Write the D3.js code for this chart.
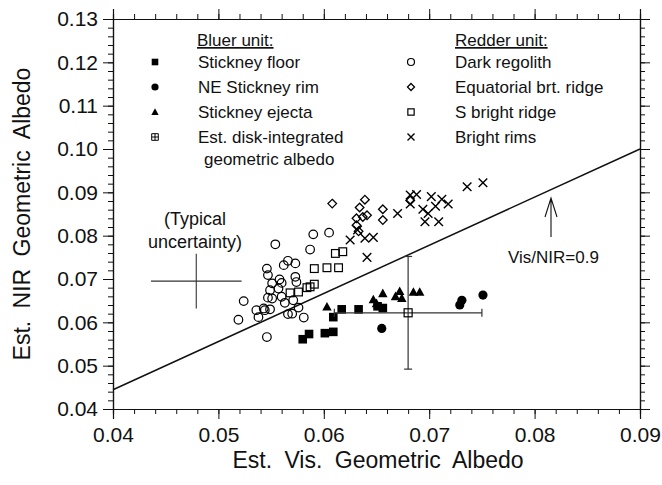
<!DOCTYPE html>
<html><head><meta charset="utf-8">
<script src="https://cdn.jsdelivr.net/npm/d3@7"></script>
<style>
body{margin:0;background:#fff;}
text{font-family:"Liberation Sans",Arial,sans-serif;fill:#111;}
</style></head>
<body><svg id="c" width="662" height="485"></svg>
<script>
// ---- data ----
const xTicks = [0.04,0.05,0.06,0.07,0.08,0.09];
const yTicks = [0.04,0.05,0.06,0.07,0.08,0.09,0.10,0.11,0.12,0.13];
const bluerLabels = ["Stickney floor","NE Stickney rim","Stickney ejecta"];
const redderLabels = ["Dark regolith","Equatorial brt. ridge","S bright ridge","Bright rims"];
const stickneyFloorVis = [0.0580,0.0586,0.0601,0.0609,0.0609,0.0617,0.0633,0.0651,0.0656];
const stickneyFloorNir = [0.0561,0.0573,0.0575,0.0578,0.0612,0.0630,0.0630,0.0637,0.0633];
const neRimVis = [0.0655,0.0729,0.0731,0.0751];
const neRimNir = [0.0586,0.0640,0.0651,0.0663];
const ejectaVis = [0.0603,0.0647,0.0656,0.0650,0.0668,0.0672,0.0674,0.0685,0.0691];
const ejectaNir = [0.0636,0.0653,0.0667,0.0644,0.0660,0.0672,0.0656,0.0670,0.0670];
const darkVis = [0.0590,0.0605,0.0554,0.0587,0.0566,0.0562,0.0573,0.0546,0.0547,0.0573,0.0558,0.0551,0.0560,0.0574,0.0549,0.0557,0.0551,0.0560,0.0571,0.0547,0.0563,0.0576,0.0544,0.0549,0.0538,0.0566,0.0570,0.0581,0.0546,0.0524,0.0519,0.0536,0.0543];
const darkNir = [0.0803,0.0807,0.0780,0.0768,0.0742,0.0732,0.0736,0.0724,0.0709,0.0705,0.0699,0.0690,0.0691,0.0693,0.0674,0.0678,0.0655,0.0659,0.0651,0.0657,0.0645,0.0634,0.0628,0.0630,0.0612,0.0619,0.0620,0.0611,0.0566,0.0649,0.0606,0.0628,0.0632];
const ridgeVis = [0.0608,0.0639,0.0634,0.0631,0.0637,0.0641,0.0656,0.0656,0.0631,0.0633,0.0682];
const ridgeNir = [0.0874,0.0883,0.0865,0.0840,0.0843,0.0847,0.0861,0.0836,0.0824,0.0810,0.0881];
const sRidgeVis = [0.0611,0.0618,0.0591,0.0603,0.0614,0.0591,0.0587,0.0584,0.0576,0.0568];
const sRidgeNir = [0.0759,0.0763,0.0724,0.0726,0.0726,0.0688,0.0682,0.0680,0.0670,0.0668];
const rimsVis = [0.0625,0.0632,0.0639,0.0647,0.0641,0.0670,0.0682,0.0688,0.0682,0.0694,0.0702,0.0706,0.0712,0.0718,0.0699,0.0696,0.0709,0.0736,0.0751];
const rimsNir = [0.0790,0.0813,0.0794,0.0796,0.0750,0.0851,0.0894,0.0895,0.0873,0.0861,0.0890,0.0868,0.0884,0.0873,0.0851,0.0832,0.0832,0.0913,0.0922];
const diskVis = 0.0680, diskNir = 0.0622, diskVisErr = 0.0070, diskNirErr = 0.0130;
const typVis = 0.0479, typNir = 0.0695, typVisErr = 0.0043, typNirErr = 0.0063;
const ratio = 0.9;

// ---- chart ----
const svg = d3.select("#c");
const x = d3.scaleLinear().domain([0.04,0.09]).range([113,640]);
const y = d3.scaleLinear().domain([0.04,0.13]).range([409,19]);
const minorX = d3.range(0.04,0.0901,0.002), minorY = d3.range(0.04,0.1301,0.002);
const fmt = d3.format(".2f");
const ax = svg.append("g").attr("class","axes");
function styleAxis(g){g.selectAll("path").attr("stroke","#111").attr("stroke-width",1.2);g.selectAll("line").attr("stroke","#111");g.selectAll("text").style("font-size","21px").attr("fill","#111");}
// minor
ax.append("g").attr("transform","translate(0,409)").call(d3.axisBottom(x).tickValues(minorX).tickSize(5).tickFormat("")).call(styleAxis);
ax.append("g").attr("transform","translate(0,19)").call(d3.axisTop(x).tickValues(minorX).tickSize(5).tickFormat("")).call(styleAxis);
ax.append("g").attr("transform","translate(113,0)").call(d3.axisLeft(y).tickValues(minorY).tickSize(5).tickFormat("")).call(styleAxis);
ax.append("g").attr("transform","translate(640,0)").call(d3.axisRight(y).tickValues(minorY).tickSize(5).tickFormat("")).call(styleAxis);
// major
ax.append("g").attr("transform","translate(0,409)").call(d3.axisBottom(x).tickValues(xTicks).tickSize(10).tickPadding(8).tickFormat(fmt)).call(styleAxis);
ax.append("g").attr("transform","translate(0,19)").call(d3.axisTop(x).tickValues(xTicks).tickSize(10).tickFormat("")).call(styleAxis);
ax.append("g").attr("transform","translate(113,0)").call(d3.axisLeft(y).tickValues(yTicks).tickSize(10).tickPadding(5).tickFormat(fmt)).call(styleAxis);
ax.append("g").attr("transform","translate(640,0)").call(d3.axisRight(y).tickValues(yTicks).tickSize(10).tickFormat("")).call(styleAxis);

svg.append("text").attr("x",378).attr("y",468).attr("text-anchor","middle").style("font-size","23px").style("word-spacing","6px").text("Est. Vis. Geometric Albedo");
svg.append("text").attr("transform","translate(30,214) rotate(-90)").attr("text-anchor","middle").style("font-size","23px").style("word-spacing","6px").text("Est. NIR Geometric Albedo");

// ratio line
svg.append("line").attr("x1",x(0.04)).attr("y1",y(0.04/ratio)).attr("x2",x(0.09)).attr("y2",y(0.09/ratio)).attr("stroke","#111").attr("stroke-width",1.5);

// symbol makers
const sz = 4.3;
function sym(type, g, cx, cy, s){
  s = s||sz;
  if(type==="fsquare") g.append("rect").attr("x",cx-s).attr("y",cy-s).attr("width",2*s).attr("height",2*s).attr("fill","#000");
  else if(type==="fcircle") g.append("circle").attr("cx",cx).attr("cy",cy).attr("r",s+0.3).attr("fill","#000");
  else if(type==="ftri") g.append("path").attr("d",`M${cx},${cy-s*1.1}L${cx+s*1.1},${cy+s*0.9}L${cx-s*1.1},${cy+s*0.9}Z`).attr("fill","#000");
  else if(type==="ocircle") g.append("circle").attr("cx",cx).attr("cy",cy).attr("r",s).attr("fill","none").attr("stroke","#000").attr("stroke-width",1.2);
  else if(type==="odiamond") g.append("path").attr("d",`M${cx},${cy-s}L${cx+s},${cy}L${cx},${cy+s}L${cx-s},${cy}Z`).attr("fill","none").attr("stroke","#000").attr("stroke-width",1.3);
  else if(type==="osquare") g.append("rect").attr("x",cx-s*0.9).attr("y",cy-s*0.9).attr("width",1.8*s).attr("height",1.8*s).attr("fill","none").attr("stroke","#000").attr("stroke-width",1.2);
  else if(type==="cross") g.append("path").attr("d",`M${cx-s},${cy-s}L${cx+s},${cy+s}M${cx-s},${cy+s}L${cx+s},${cy-s}`).attr("stroke","#000").attr("stroke-width",1.4);
  else if(type==="boxplus") g.append("path").attr("d",`M${cx-s},${cy-s}h${2*s}v${2*s}h${-2*s}Z M${cx-s},${cy}h${2*s} M${cx},${cy-s}v${2*s}`).attr("fill","none").attr("stroke","#000").attr("stroke-width",1);
}
const pts = svg.append("g");
function plot(vs, ns, type){ vs.forEach((v,i)=>sym(type, pts, x(v), y(ns[i]))); }

// disk-integrated error bars
const eb = svg.append("g").attr("stroke","#333").attr("stroke-width",1.2).attr("fill","none");
eb.append("line").attr("x1",x(diskVis-diskVisErr)).attr("x2",x(diskVis+diskVisErr)).attr("y1",y(diskNir)).attr("y2",y(diskNir));
eb.append("line").attr("x1",x(diskVis)).attr("x2",x(diskVis)).attr("y1",y(diskNir-diskNirErr)).attr("y2",y(diskNir+diskNirErr));
[diskNir-diskNirErr, diskNir+diskNirErr].forEach(n=>eb.append("line").attr("x1",x(diskVis)-4).attr("x2",x(diskVis)+4).attr("y1",y(n)).attr("y2",y(n)));
[diskVis-diskVisErr, diskVis+diskVisErr].forEach(v=>eb.append("line").attr("x1",x(v)).attr("x2",x(v)).attr("y1",y(diskNir)-4).attr("y2",y(diskNir)+4));
eb.append("rect").attr("x",x(diskVis)-4).attr("y",y(diskNir)-4).attr("width",8).attr("height",8).attr("stroke","#000");

plot(darkVis, darkNir, "ocircle");
plot(ridgeVis, ridgeNir, "odiamond");
plot(sRidgeVis, sRidgeNir, "osquare");
plot(rimsVis, rimsNir, "cross");
plot(stickneyFloorVis, stickneyFloorNir, "fsquare");
plot(neRimVis, neRimNir, "fcircle");
plot(ejectaVis, ejectaNir, "ftri");

// typical uncertainty
const tu = svg.append("g").attr("stroke","#333").attr("stroke-width",1.1);
tu.append("line").attr("x1",x(typVis-typVisErr)).attr("x2",x(typVis+typVisErr)).attr("y1",y(typNir)).attr("y2",y(typNir));
tu.append("line").attr("x1",x(typVis)).attr("x2",x(typVis)).attr("y1",y(typNir-typNirErr)).attr("y2",y(typNir+typNirErr));
svg.append("text").attr("x",195).attr("y",225).attr("text-anchor","middle").style("font-size","18px").text("(Typical");
svg.append("text").attr("x",195).attr("y",248).attr("text-anchor","middle").style("font-size","18px").text("uncertainty)");

// annotation
svg.append("text").attr("x",508).attr("y",263).style("font-size","17px").text("Vis/NIR=0.9");
svg.append("path").attr("d","M551,237V198M545,217L551,198L557,217").attr("fill","none").attr("stroke","#111").attr("stroke-width",1.1);

// legend
const lg = svg.append("g");
lg.append("text").attr("x",197).attr("y",46).style("font-size","17px").style("text-decoration","underline").text("Bluer unit:");
lg.append("text").attr("x",455).attr("y",46).style("font-size","17px").style("text-decoration","underline").text("Redder unit:");
const rows = [62,87,112,137];
const bluerTypes = ["fsquare","fcircle","ftri"];
bluerLabels.forEach((t,i)=>{ sym(bluerTypes[i], lg, 155, rows[i], 3.3); lg.append("text").attr("x",198).attr("y",rows[i]+6).style("font-size","17px").text(t); });
sym("boxplus", lg, 155, rows[3], 3.3);
lg.append("text").attr("x",198).attr("y",rows[3]+6).style("font-size","17px").text("Est. disk-integrated");
lg.append("text").attr("x",204).attr("y",165).style("font-size","17px").text("geometric albedo");
const redTypes = ["ocircle","odiamond","osquare","cross"];
redderLabels.forEach((t,i)=>{ sym(redTypes[i], lg, 411, rows[i], 3.5); lg.append("text").attr("x",455).attr("y",rows[i]+6).style("font-size","17px").text(t); });
</script></body></html>
